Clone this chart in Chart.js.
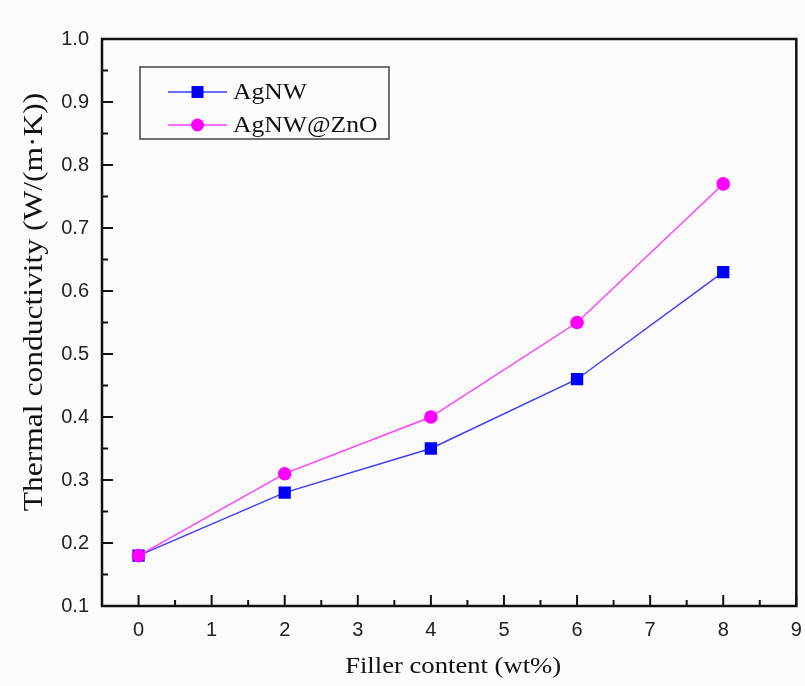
<!DOCTYPE html>
<html>
<head>
<meta charset="utf-8">
<script src="https://cdn.jsdelivr.net/npm/chart.js@4"></script>
<style>
  html, body { margin: 0; padding: 0; background: #fbfbfb; }
  #wrap { width: 805px; height: 686px; }
</style>
</head>
<body>
<div id="wrap"><canvas id="thermalChart" width="805" height="686"></canvas></div>
<script>
// filler content (wt%)
const fillerContent = [0, 2, 4, 6, 8];
// thermal conductivity W/(m·K)
const agnw = [0.18, 0.28, 0.35, 0.46, 0.63];
const agnwZno = [0.18, 0.31, 0.40, 0.55, 0.77];
const xTicks = [0, 1, 2, 3, 4, 5, 6, 7, 8, 9];
const yTicks = [0.1, 0.2, 0.3, 0.4, 0.5, 0.6, 0.7, 0.8, 0.9, 1.0];
const xTitle = 'Filler content (wt%)';
const yTitle = 'Thermal conductivity (W/(m·K))';

const SERIF = '"Liberation Serif", "Times New Roman", serif';
const toPoints = (xs, ys) => xs.map((x, i) => ({ x: x, y: ys[i] }));

// serif text, a bit wider than the font draws it (like the original figure)
function wideText(ctx, text, x, y, size, stretch, rot, align) {
    ctx.save();
    ctx.translate(x, y);
    if (rot) ctx.rotate(rot);
    ctx.scale(stretch, 1);
    ctx.font = size + 'px ' + SERIF;
    ctx.fillStyle = '#111';
    ctx.textAlign = align || 'center';
    ctx.textBaseline = 'middle';
    ctx.fillText(text, 0, 0);
    ctx.restore();
}

// frame + inward major/minor ticks
const frameTicks = {
    id: 'frameTicks',
    afterDatasetsDraw(chart) {
        const { ctx, chartArea: a, scales } = chart;
        ctx.save();
        ctx.strokeStyle = '#111';
        ctx.lineWidth = 2;
        const xs = scales.x;
        xTicks.forEach((v, i) => {
            const px = xs.getPixelForValue(v);
            ctx.beginPath(); ctx.moveTo(px, a.bottom); ctx.lineTo(px, a.bottom - 11); ctx.stroke();
            if (i < xTicks.length - 1) {
                const pm = xs.getPixelForValue(v + 0.5);
                ctx.beginPath(); ctx.moveTo(pm, a.bottom); ctx.lineTo(pm, a.bottom - 6); ctx.stroke();
            }
        });
        const ys = scales.y;
        yTicks.forEach((v, i) => {
            const py = ys.getPixelForValue(v);
            ctx.beginPath(); ctx.moveTo(a.left, py); ctx.lineTo(a.left + 11, py); ctx.stroke();
            if (i < yTicks.length - 1) {
                const pm = ys.getPixelForValue(v + 0.05);
                ctx.beginPath(); ctx.moveTo(a.left, pm); ctx.lineTo(a.left + 6, pm); ctx.stroke();
            }
        });
        ctx.lineWidth = 2.5;
        ctx.strokeRect(a.left, a.top, a.right - a.left, a.bottom - a.top);
        ctx.restore();
    }
};

// axis titles + boxed legend inside the plot
const boxLegend = {
    id: 'boxLegend',
    afterDraw(chart) {
        const { ctx, chartArea: a } = chart;
        wideText(ctx, xTitle, (a.left + a.right) / 2 + 4, 667, 24, 1.11, 0);
        wideText(ctx, yTitle, 35, 302, 26.5, 1.19, -Math.PI / 2);

        const bx = a.left + 38, by = a.top + 28, bw = 249, bh = 72;
        ctx.save();
        ctx.fillStyle = '#fbfbfb';
        ctx.fillRect(bx, by, bw, bh);
        ctx.strokeStyle = '#444';
        ctx.lineWidth = 1.5;
        ctx.strokeRect(bx, by, bw, bh);
        chart.data.datasets.forEach((ds, i) => {
            const y = by + 25 + i * 33;
            const x0 = bx + 28, x1 = bx + 87, xm = (x0 + x1) / 2;
            ctx.strokeStyle = ds.borderColor;
            ctx.lineWidth = ds.borderWidth;
            ctx.beginPath(); ctx.moveTo(x0, y); ctx.lineTo(x1, y); ctx.stroke();
            ctx.fillStyle = ds.pointBackgroundColor;
            if (ds.pointStyle === 'rect') {
                ctx.fillRect(xm - 6, y - 6, 12, 12);
            } else {
                ctx.beginPath(); ctx.arc(xm, y, 6.5, 0, Math.PI * 2); ctx.fill();
            }
            wideText(ctx, ds.label, bx + 93, y + 1, 23.5, 1.09, 0, 'left');
        });
        ctx.restore();
    }
};

new Chart(document.getElementById('thermalChart'), {
    type: 'line',
    data: {
        datasets: [{
            label: 'AgNW',
            data: toPoints(fillerContent, agnw),
            borderColor: '#3b3bff',
            borderWidth: 1.4,
            pointStyle: 'rect',
            pointRadius: 8.7,
            pointBackgroundColor: '#0000ff',
            pointBorderWidth: 0,
            pointBorderColor: '#0000ff',
            order: 1
        }, {
            label: 'AgNW@ZnO',
            data: toPoints(fillerContent, agnwZno),
            borderColor: '#ff3cff',
            borderWidth: 1.4,
            pointStyle: 'circle',
            pointRadius: 6.8,
            pointBackgroundColor: '#ff00ff',
            pointBorderWidth: 0,
            pointBorderColor: '#ff00ff',
            order: 0
        }]
    },
    options: {
        responsive: false,
        animation: false,
        layout: { padding: { top: 39, right: 6, left: 0, bottom: 0 } },
        plugins: {
            legend: { display: false },
            tooltip: { enabled: false }
        },
        scales: {
            x: {
                type: 'linear',
                min: -0.5,
                max: 9,
                afterBuildTicks: (s) => { s.ticks = xTicks.map(v => ({ value: v })); },
                afterFit: (s) => { s.height = 80; s.paddingRight = 0; s.paddingLeft = 0; },
                grid: { display: false, drawTicks: false },
                border: { display: false },
                ticks: {
                    padding: 12,
                    color: '#222',
                    font: { family: '"Liberation Sans", Arial, sans-serif', size: 20 }
                }
            },
            y: {
                type: 'linear',
                min: 0.1,
                max: 1.0,
                afterBuildTicks: (s) => { s.ticks = yTicks.map(v => ({ value: v })); },
                afterFit: (s) => { s.width = 102; s.paddingTop = 0; s.paddingBottom = 0; },
                grid: { display: false, drawTicks: false },
                border: { display: false },
                ticks: {
                    padding: 13,
                    color: '#222',
                    font: { family: '"Liberation Sans", Arial, sans-serif', size: 20 },
                    callback: (v) => Number(v).toFixed(1)
                }
            }
        }
    },
    plugins: [frameTicks, boxLegend]
});
</script>
</body>
</html>
